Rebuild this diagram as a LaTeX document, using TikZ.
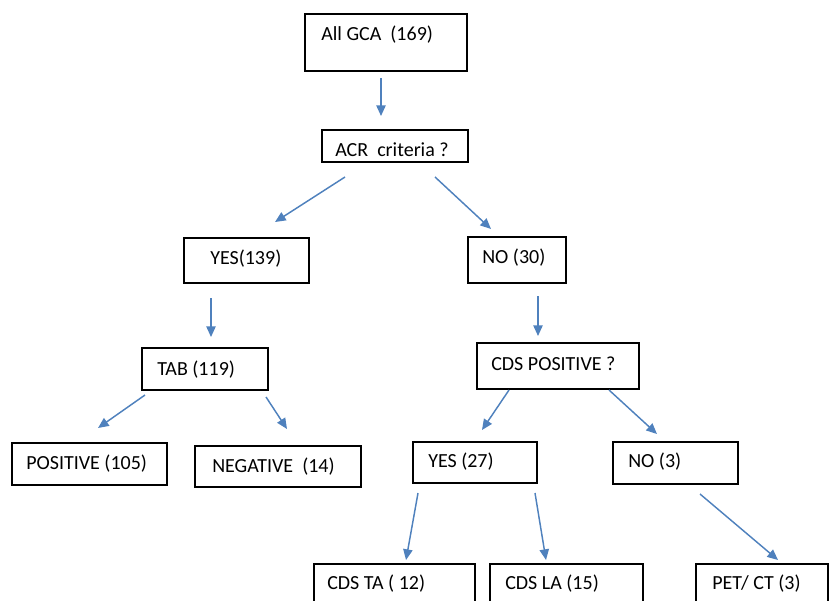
\documentclass[tikz,border=0pt]{standalone}
\usepackage{fontspec}
\setmainfont{Carlito}
\usetikzlibrary{arrows.meta,fit}
\definecolor{arrblue}{RGB}{79,129,189}
\begin{document}
\begin{tikzpicture}[x=0.75pt,y=-0.75pt,
  box/.style={draw=black, line width=0.8pt, inner sep=0pt, rectangle},
  txt/.style={inner sep=0pt, anchor=west, font=\fontsize{15}{18}\selectfont},
  arr/.style={draw=arrblue, line width=1.1pt, -{Triangle[length=8pt,width=7pt]}}]
\useasboundingbox (0,0) rectangle (830,600);
\clip (0,0) rectangle (830,600);
% boxes
\node[box, fit={(305,14) (467,71)}] (gca) {};
\node[box, fit={(322,130) (468,162)}] (acr) {};
\node[box, fit={(184,238) (309,283)}] (yes1) {};
\node[box, fit={(468,237) (566,283)}] (no1) {};
\node[box, fit={(142,348) (268,390)}] (tab) {};
\node[box, fit={(477,343) (639,389)}] (cds) {};
\node[box, fit={(12,443) (167,485)}] (pos) {};
\node[box, fit={(195,446) (361,487)}] (neg) {};
\node[box, fit={(413,442) (537,483)}] (yes2) {};
\node[box, fit={(613,442) (738,484)}] (no2) {};
\node[box, fit={(314,564) (475,640)}] (ta) {};
\node[box, fit={(490,564) (643,640)}] (la) {};
\node[box, fit={(696,564) (828,640)}] (pet) {};
% texts
\node[txt] (tgca) at (321,35) {All GCA\ \ (169)};
\node[txt] (tacr) at (335,150) {ACR\ \ criteria ?};
\node[txt] (tyes1) at (210,259) {YES(139)};
\node[txt] (tno1) at (482,258) {NO (30)};
\node[txt] (ttab) at (157,370) {TAB (119)};
\node[txt] (tcds) at (491,364) {CDS POSITIVE ?};
\node[txt] (tpos) at (26,464) {POSITIVE (105)};
\node[txt] (tneg) at (212,467) {NEGATIVE\ \ (14)};
\node[txt] (tyes2) at (428,462) {YES (27)};
\node[txt] (tno2) at (628,462) {NO (3)};
\node[txt] (tta) at (327,584) {CDS TA ( 12)};
\node[txt] (tla) at (505,584) {CDS LA (15)};
\node[txt] (tpet) at (712,584) {PET/ CT (3)};
% arrow end points
\coordinate (a1s) at (381,78);  \coordinate (a1e) at (381,116);
\coordinate (a2s) at (345,177); \coordinate (a2e) at (275,222);
\coordinate (a3s) at (435,177); \coordinate (a3e) at (491,229);
\coordinate (a4s) at (211,298); \coordinate (a4e) at (211,337);
\coordinate (a5s) at (538,296); \coordinate (a5e) at (538,336);
\coordinate (a6s) at (145,395); \coordinate (a6e) at (98,428);
\coordinate (a7s) at (266,397); \coordinate (a7e) at (287,429);
\coordinate (a8s) at (509,390); \coordinate (a8e) at (482,430);
\coordinate (a9s) at (609,390); \coordinate (a9e) at (657,434);
\coordinate (a10s) at (418,493); \coordinate (a10e) at (406,560);
\coordinate (a11s) at (535,493); \coordinate (a11e) at (546,560);
\coordinate (a12s) at (700,494); \coordinate (a12e) at (778,560);
\foreach \i in {1,...,12} {\draw[arr] (a\i s) -- (a\i e);}
\end{tikzpicture}
\end{document}
